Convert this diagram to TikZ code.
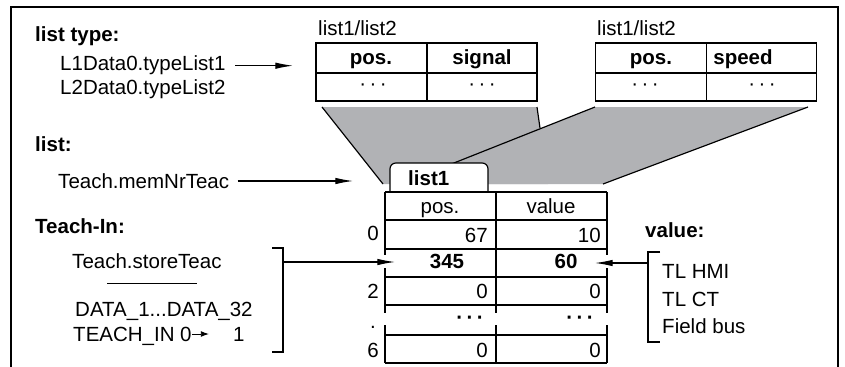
\documentclass[tikz,border=0pt]{standalone}
\usepackage{fontspec}
\setmainfont{Liberation Sans}
\usetikzlibrary{arrows.meta}

\definecolor{fanfill}{RGB}{177,178,181}

\tikzset{
  txt/.style={font=\fontsize{17.5}{20}\selectfont, inner sep=0pt},
  btxt/.style={inner sep=0pt, font=\fontsize{17.5}{20}\selectfont\bfseries},
  arr/.style={line width=0.9pt, -{Latex[length=15pt,width=5.5pt]}},
  tline/.style={line width=1pt},
  hline/.style={line width=1.4pt},
}

\begin{document}
\begin{tikzpicture}[x=0.03cm, y=-0.03cm]
  \useasboundingbox (0,0) rectangle (845,367);

	% Frame
	\draw[tline] (11,367) -- (11,7) -- (838,7) -- (838,367);

	% Fan from the list types down to list1
	\fill[fanfill] (322,107) -- (537,107) -- (548,184) -- (383,184) -- cycle;
	\fill[fanfill] (595,107) -- (808,107) -- (603,184) -- (401,184) -- cycle;
	\draw[tline] (322,107) -- (383,184);
	\draw[tline] (537,107) -- (540,128);
	\draw[tline] (595,107) -- (401,184);
	\draw[tline] (808,107) -- (603,184);

	% list type
	\node[btxt, anchor=base west] (hdtype) at (35,42) {list type:};
	\node[txt, anchor=base west] (l1) at (60,71) {L1Data0.typeList1};
	\node[txt, anchor=base west] (l2) at (60,94) {L2Data0.typeList2};
	\coordinate (l1tip) at (293,63);
	\draw[arr] ([xshift=8pt]l1.east) -- (l1.east -| l1tip);

	% Type tables
	\foreach \ox in {0,279.5} {
	  \begin{scope}[shift={(\ox,0)}]
	    \draw[tline] (316,43) rectangle (537,101);
	    \draw[line width=1.8pt] (316,73) -- (537,73);
	    \draw[tline] (427,43) -- (427,101);
	  \end{scope}
	}
	\node[txt, anchor=base west] (tyla) at (318,36) {list1/list2};
	\node[txt, anchor=base west] (tylb) at (597,36) {list1/list2};
	\node[btxt, anchor=base] (tyapos) at (371,65) {pos.};
	\node[btxt, anchor=base] (tyasig) at (482,65) {signal};
	\node[btxt, anchor=base] (tybpos) at (651,65) {pos.};
	\node[btxt, anchor=base] (tybspd) at (743,65) {speed};
	\node[txt] (tyadota) at (373,87) {·\,·\,·};
	\node[txt] (tyadotb) at (482,87) {·\,·\,·};
	\node[txt] (tybdota) at (645,87) {·\,·\,·};
	\node[txt] (tybdotb) at (762,87) {·\,·\,·};

	% list
	\node[btxt, anchor=base west] (hdlist) at (35,151) {list:};
	\node[txt, anchor=base west] (mem) at (58,188) {Teach.memNrTeac};
	\coordinate (memtip) at (353,181);
	\draw[arr] ([xshift=7pt]mem.east |- memtip) -- (memtip);

	% Tab
	\draw[tline, fill=white, rounded corners=5pt] (390,192) -- (390,163) -- (488,163) -- (488,192);
	\node[btxt, anchor=base west] (tab) at (408,185) {list1};

	% Table rows
	\foreach \y in {192,220,249,277,305,335,363}
	  \draw[hline] (385,\y) -- (607,\y);
	% Table columns
	\foreach \x in {385,496,607} {
	  \draw[tline] (\x,192) -- (\x,249);
	  \draw[tline] (\x,277) -- (\x,305);
	  \draw[tline] (\x,305) -- (\x,313) (\x,325) -- (\x,335);
	  \draw[tline] (\x,335) -- (\x,363);
	}
	\draw[tline] (385,249) -- (385,255) (385,268) -- (385,277);
	\draw[tline] (607,249) -- (607,255) (607,268) -- (607,277);
	\draw[tline] (496,249) -- (496,277);

	% Table cells
	\node[txt, anchor=base] (cpos) at (440,213) {pos.};
	\node[txt, anchor=base] (cval) at (551,213) {value};
	\node[txt, anchor=base east] (c0p) at (488,242) {67};
	\node[txt, anchor=base east] (c0v) at (601,242) {10};
	\node[btxt, anchor=base] (c1p) at (447,268) {345};
	\node[btxt, anchor=base] (c1v) at (566,268) {60};
	\node[txt, anchor=base east] (c2p) at (488,298) {0};
	\node[txt, anchor=base east] (c2v) at (601,298) {0};
	\node[btxt] (cdp) at (470,320) {·\,·\,·};
	\node[btxt] (cdv) at (580,320) {·\,·\,·};
	\node[txt, anchor=base east] (c6p) at (488,357) {0};
	\node[txt, anchor=base east] (c6v) at (601,357) {0};

	% Row numbers
	\node[txt, anchor=base] (r0) at (373,240) {0};
	\node[txt, anchor=base] (r2) at (373,298) {2};
	\node[txt, anchor=base] (rd) at (373,328) {.};
	\node[txt, anchor=base] (r6) at (373,357) {6};

	% Teach-In
	\node[btxt, anchor=base west] (hdteach) at (35,233) {Teach-In:};
	\node[txt, anchor=base west] (store) at (72,268) {Teach.storeTeac};
	\draw[line width=0.8pt] (107,283) -- (197,283);
	\node[txt, anchor=base west] (data) at (75,316) {DATA\_1...DATA\_32};
	\node[txt, anchor=base west] (tin) at (73,341) {TEACH\_IN};
	\node[txt, anchor=base west] (tzero) at (180,341) {0};
	\node[txt, anchor=base west] (tone) at (233,341) {1};
	\coordinate (tonetip) at (209,334);
	\draw[line width=0.8pt, -{Latex[length=7pt,width=5pt]}] (tzero.east |- tonetip) -- (tonetip);
	\draw[tline] (272,248) -- (283,248) -- (283,352) -- (272,352);
	\coordinate (storebrk) at (283,262);
	\coordinate (row1in) at (395,262);
	\draw[arr] (storebrk) -- (row1in);

	% value
	\node[btxt, anchor=base west] (hdval) at (645,237) {value:};
	\node[txt, anchor=base west] (hmi) at (662,278) {TL HMI};
	\node[txt, anchor=base west] (ct) at (662,306) {TL CT};
	\node[txt, anchor=base west] (bus) at (662,333) {Field bus};
	\draw[tline] (660,252) -- (648,252) -- (648,342) -- (660,342);
	\coordinate (valbrk) at (648,263);
	\coordinate (row1out) at (595,263);
	\draw[arr] (valbrk) -- (row1out);

\end{tikzpicture}
\end{document}
